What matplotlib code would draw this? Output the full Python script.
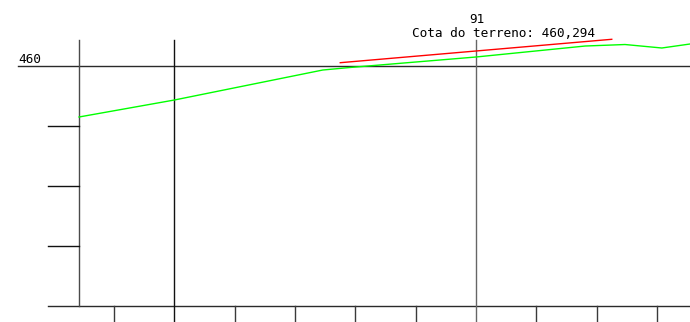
#!/usr/bin/env python3
"""Longitudinal profile detail around station 91 (CAD-style)."""

import matplotlib
matplotlib.use("Agg")
import matplotlib.pyplot as plt

# ── data ─────────────────────────────────────────────────────────────────────
# terrain profile (green), x in stations, y in metres
terrain_x = [84.42, 86.0, 88.46, 88.91, 91.0, 92.81, 93.47, 94.08, 94.55]
terrain_y = [459.150, 459.433, 459.933, 459.975, 460.150, 460.333, 460.358, 460.300, 460.367]

# grade line (red)
grade_x = [88.75, 91.0, 93.25]
grade_y = [460.055, 460.250, 460.445]

station_ticks = [85, 86, 87, 88, 89, 90, 91, 92, 93, 94]
elev_ticks = [459, 458, 457]
ref_elev = 460
base_elev = 456

marker_station = 91
marker_label = "91"
marker_text = "Cota do terreno: 460,294"

# ── frame ────────────────────────────────────────────────────────────────────
X_MIN, X_MAX = 83.11, 94.547
Y_MIN, Y_MAX = 455.733, 461.1
LEFT_AXIS = 84.42
TICK_LEFT = 83.906
TOP_LINE = 460.433
LINE = "#111111"
LW = 1.0

fig = plt.figure(figsize=(6.9, 3.22), dpi=100)
ax = fig.add_axes([0, 0, 1, 1])
ax.set_xlim(X_MIN, X_MAX)
ax.set_ylim(Y_MIN, Y_MAX)
ax.axis("off")

# reference level line and base line
ax.plot([83.409, X_MAX], [ref_elev, ref_elev], color="#2a2a2a", lw=LW)
ax.plot([TICK_LEFT, X_MAX], [base_elev, base_elev], color="#2a2a2a", lw=LW)

# left elevation axis with ticks
ax.plot([LEFT_AXIS, LEFT_AXIS], [base_elev, TOP_LINE], color="#4a4a4a", lw=LW)
for e in elev_ticks:
    ax.plot([TICK_LEFT, LEFT_AXIS], [e, e], color=LINE, lw=LW)

# station ticks below the base line
for s in station_ticks:
    if s in (86, marker_station):
        continue
    ax.plot([s, s], [base_elev, Y_MIN], color="#3a3a3a", lw=LW)

# full-height station lines
ax.plot([86, 86], [Y_MIN, TOP_LINE], color=LINE, lw=LW)
ax.plot([marker_station, marker_station], [Y_MIN, TOP_LINE], color="#666666", lw=LW)

# profiles
ax.plot(terrain_x, terrain_y, color="#00ff00", lw=LW)
ax.plot(grade_x, grade_y, color="#ff0000", lw=LW)

# labels
font = dict(family="DejaVu Sans Mono", color="black", fontsize=9.2)
ax.text(83.41, ref_elev + 0.05, str(ref_elev), ha="left", va="baseline", **font)
ax.text(marker_station + 0.02, 460.715, marker_label, ha="center", va="baseline", **font)
ax.text(91.46, 460.483, marker_text, ha="center", va="baseline", **font)

fig.savefig("out.png", dpi=100)
